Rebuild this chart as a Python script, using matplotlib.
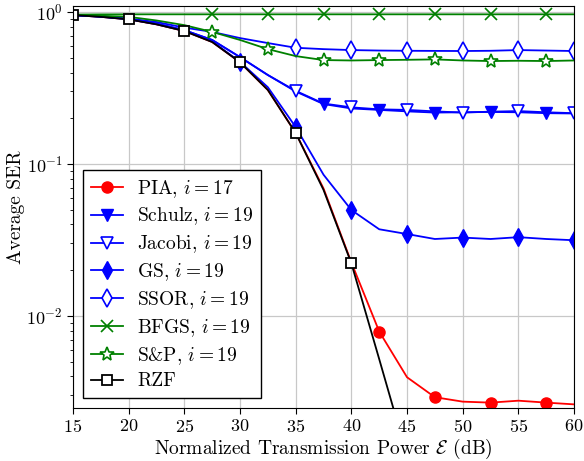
import numpy as np
import matplotlib
matplotlib.use("Agg")
import matplotlib.pyplot as plt

plt.rcParams['font.family'] = 'cmr10'
plt.rcParams['mathtext.fontset'] = 'cm'
plt.rcParams['axes.formatter.use_mathtext'] = True

# Normalized transmission power (dB)
power_db = [15, 17.5, 20, 22.5, 25, 27.5, 30, 32.5, 35, 37.5, 40, 42.5, 45,
            47.5, 50, 52.5, 55, 57.5, 60]

pia = [0.955, 0.93, 0.895, 0.83, 0.75, 0.635, 0.467, 0.307, 0.16, 0.069, 0.0225,
       0.0079, 0.00395, 0.00292, 0.00273, 0.00269, 0.00277, 0.00269, 0.00262]
schulz = [0.955, 0.935, 0.9, 0.84, 0.76, 0.655, 0.505, 0.385, 0.30, 0.248, 0.232,
          0.227, 0.222, 0.218, 0.219, 0.22, 0.219, 0.216, 0.215]
jacobi = [0.955, 0.935, 0.9, 0.84, 0.76, 0.655, 0.505, 0.385, 0.303, 0.25, 0.236,
          0.229, 0.227, 0.222, 0.218, 0.221, 0.223, 0.219, 0.216]
gs = [0.955, 0.93, 0.897, 0.832, 0.752, 0.64, 0.47, 0.32, 0.175, 0.085, 0.0498,
      0.0372, 0.0346, 0.0321, 0.0328, 0.0321, 0.033, 0.0321, 0.0315]
ssor = [0.955, 0.94, 0.905, 0.86, 0.79, 0.74, 0.674, 0.625, 0.582, 0.57, 0.562,
        0.558, 0.556, 0.555, 0.554, 0.556, 0.562, 0.558, 0.554]
bfgs = [0.962, 0.965, 0.966, 0.966, 0.966, 0.966, 0.966, 0.966, 0.966, 0.966,
        0.966, 0.966, 0.966, 0.966, 0.966, 0.966, 0.966, 0.966, 0.966]
sp = [0.96, 0.945, 0.93, 0.88, 0.82, 0.74, 0.655, 0.57, 0.513, 0.483, 0.48,
      0.483, 0.485, 0.488, 0.48, 0.476, 0.478, 0.476, 0.48]
rzf = [0.955, 0.93, 0.895, 0.83, 0.75, 0.635, 0.467, 0.307, 0.16, 0.0675, 0.0222,
       0.0052, 0.0012, np.nan, np.nan, np.nan, np.nan, np.nan, np.nan]

fig, ax = plt.subplots(figsize=(5.84, 4.61), dpi=100)
fig.subplots_adjust(left=0.125, right=0.983, top=0.987, bottom=0.115)

lw = 1.3
ax.plot(power_db, pia, color='red', marker='o', ms=8, lw=lw,
        markevery=[11, 13, 15, 17], label=r'PIA, $i=17$')
ax.plot(power_db, schulz, color='blue', marker='v', ms=8, lw=lw,
        markevery=[9, 11, 13, 15, 17], label=r'Schulz, $i=19$')
ax.plot(power_db, jacobi, color='blue', marker='v', ms=8, lw=lw,
        markevery=[8, 10, 12, 14, 16, 18], mfc='white', mew=1.2,
        label=r'Jacobi, $i=19$')
ax.plot(power_db, gs, color='blue', marker='d', ms=9, lw=lw,
        markevery=[6, 8, 10, 12, 14, 16, 18], label=r'GS, $i=19$')
ax.plot(power_db, ssor, color='blue', marker='d', ms=9, lw=lw,
        markevery=[8, 10, 12, 14, 16, 18], mfc='white', mew=1.2,
        label=r'SSOR, $i=19$')
ax.plot(power_db, bfgs, color='green', marker='x', ms=8, lw=lw,
        markevery=[5, 7, 9, 11, 13, 15, 17], mew=1.2, label=r'BFGS, $i=19$')
ax.plot(power_db, sp, color='green', marker='*', ms=10, lw=lw,
        markevery=[5, 7, 9, 11, 13, 15, 17], mfc='white', mew=1.2,
        label=r'S&P, $i=19$')
ax.plot(power_db, rzf, color='black', marker='s', ms=7.5, lw=lw,
        markevery=[0, 2, 4, 6, 8, 10], mfc='white', mew=1.3, label='RZF')

ax.set_yscale('log')
ax.set_xlim(15, 60)
ax.set_ylim(2.48e-3, 1.096)
ax.set_xticks(np.arange(15, 61, 5))
ax.grid(True, which='major', color='#c8c8c8', lw=0.9)
ax.set_axisbelow(True)
ax.tick_params(labelsize=13)
ax.tick_params(which='major', length=4)
ax.tick_params(which='minor', length=2.5)

ax.set_xlabel(r'Normalized Transmission Power $\mathcal{E}$ (dB)', fontsize=14, labelpad=1)
ax.set_ylabel('Average SER', fontsize=14, labelpad=1)

leg = ax.legend(loc='lower left', fontsize=14, fancybox=False, edgecolor='black',
                framealpha=1, borderaxespad=0.5, handlelength=1.65,
                handletextpad=0.75, borderpad=0.4, labelspacing=0.31)
leg.get_frame().set_linewidth(1.0)

fig.savefig('out.png', dpi=100)
